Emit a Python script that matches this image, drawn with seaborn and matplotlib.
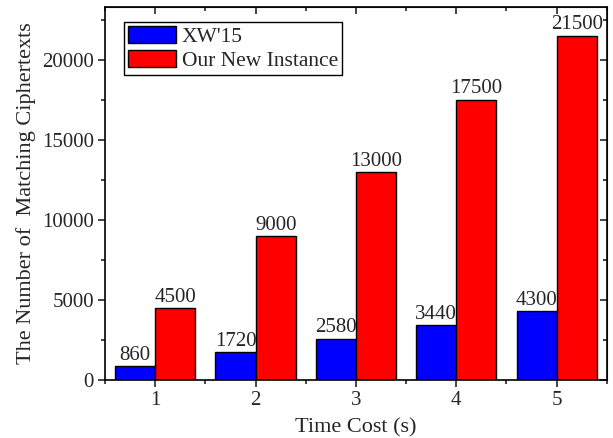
import pandas as pd
import seaborn as sns
import matplotlib.pyplot as plt
from matplotlib.ticker import MultipleLocator

time_cost = ['1', '2', '3', '4', '5']
xw15 = [860, 1720, 2580, 3440, 4300]
new_instance = [4500, 9000, 13000, 17500, 21500]
series_names = ["XW'15", "Our New Instance"]

df = pd.DataFrame({
    'Time Cost': time_cost * 2,
    'Count': xw15 + new_instance,
    'Scheme': [series_names[0]] * 5 + [series_names[1]] * 5,
})

sns.set_style('ticks')
plt.rcParams['font.family'] = ['Liberation Serif', 'DejaVu Serif']
plt.rcParams['font.size'] = 15

fig = plt.figure(figsize=(6.13, 4.38), dpi=100)
ax = fig.add_axes([0.1713, 0.1324, 0.8187, 0.8516])

sns.barplot(data=df, x='Time Cost', y='Count', hue='Scheme', ax=ax,
            palette=['#0000ff', '#ff0000'], width=0.8,
            edgecolor='black', linewidth=1.0, saturation=1)

for cont in ax.containers:
    ax.bar_label(cont, padding=1, fontsize=15)

ax.set_xlim(-0.5, 4.5)
ax.set_ylim(0, 23300)
ax.yaxis.set_major_locator(MultipleLocator(5000))
ax.yaxis.set_minor_locator(MultipleLocator(2500))
ax.xaxis.set_minor_locator(MultipleLocator(0.5))

ax.set_xlabel('Time Cost (s)', fontsize=16, labelpad=6)
ax.set_ylabel('The Number of  Matching Ciphertexts', fontsize=16, labelpad=4)

for s in ax.spines.values():
    s.set_visible(True)
    s.set_linewidth(1.2)
    s.set_color('black')

ax.tick_params(axis='both', which='major', direction='out', length=5, width=1.2,
               labelsize=15, top=False, right=False, pad=3)
ax.tick_params(axis='both', which='minor', direction='out', length=3, width=1.2,
               top=False, right=False)

# inward ticks on top and right
ax_t = ax.secondary_xaxis('top')
ax_t.set_xticks(ax.get_xticks())
ax_t.xaxis.set_minor_locator(MultipleLocator(0.5))
ax_t.tick_params(which='major', direction='in', length=5, width=1.2, labeltop=False)
ax_t.tick_params(which='minor', direction='in', length=3, width=1.2)
ax_t.set_xticklabels([])
ax_r = ax.secondary_yaxis('right')
ax_r.yaxis.set_major_locator(MultipleLocator(5000))
ax_r.yaxis.set_minor_locator(MultipleLocator(2500))
ax_r.tick_params(which='major', direction='in', length=5, width=1.2, labelright=False)
ax_r.tick_params(which='minor', direction='in', length=3, width=1.2)

leg = ax.legend(loc='upper left', fontsize=15.5, frameon=True, fancybox=False,
                edgecolor='black', borderpad=0.2, handlelength=2.23,
                handleheight=0.82, labelspacing=0.15, handletextpad=0.28,
                borderaxespad=0, bbox_to_anchor=(0.037, 0.961))
leg.get_frame().set_linewidth(1.0)
leg.get_frame().set_alpha(1)

fig.savefig('out.png', dpi=100)
